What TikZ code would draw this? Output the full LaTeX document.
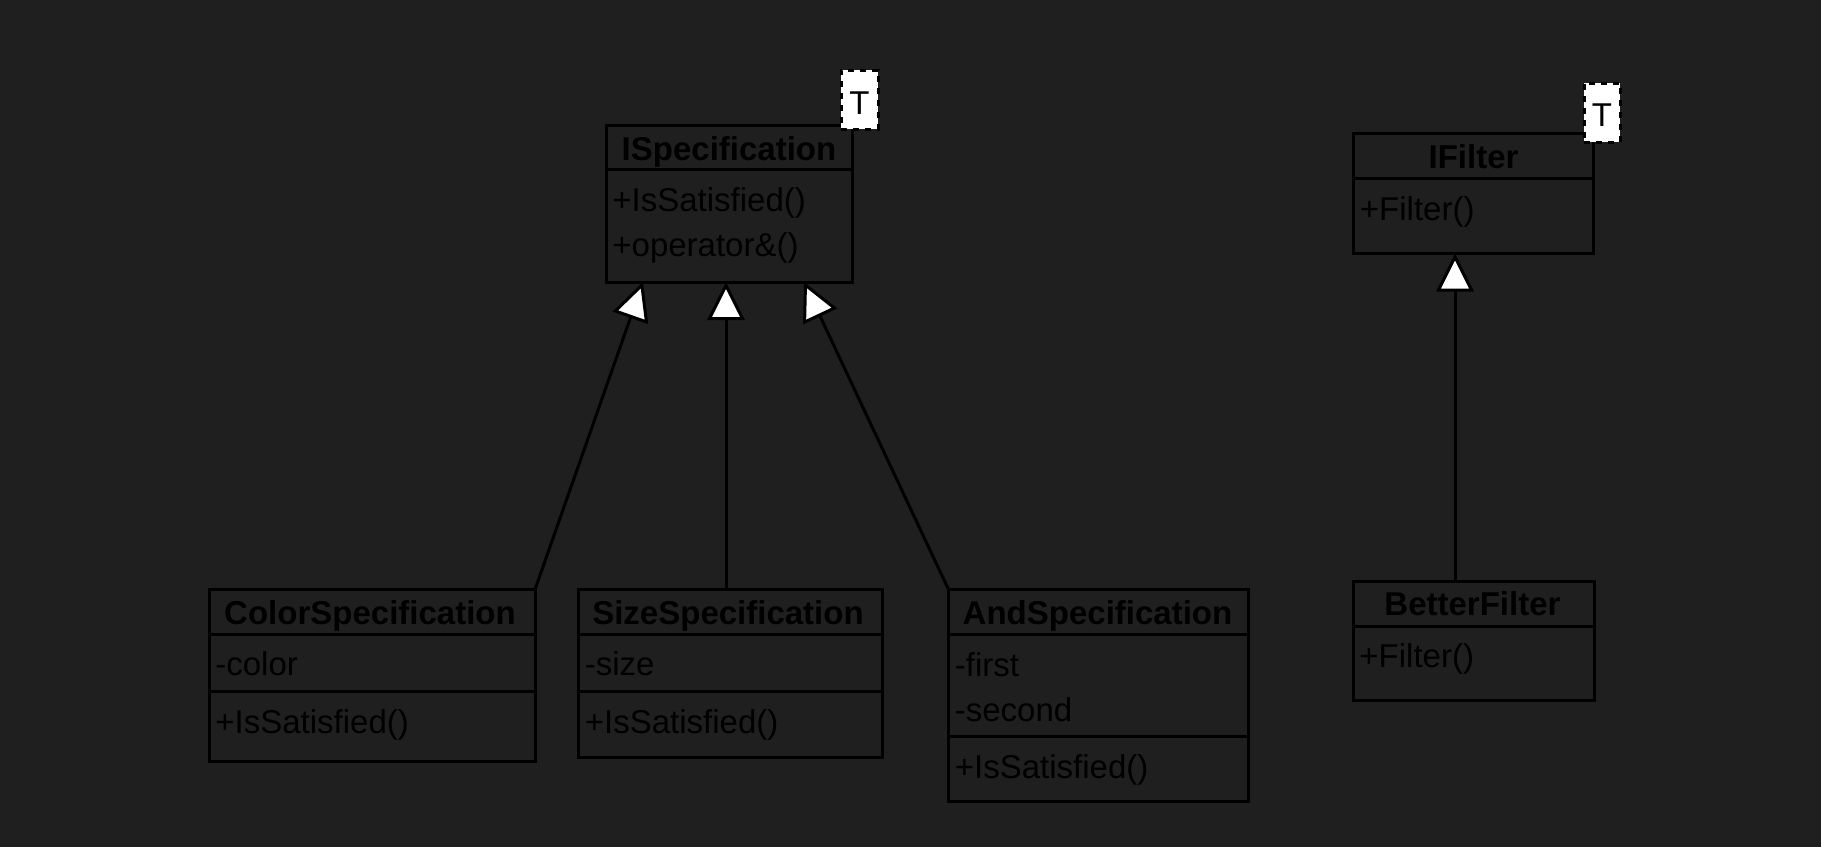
\documentclass[tikz,border=0pt]{standalone}
\usepackage{fontspec}
\setmainfont{Liberation Sans}
\usetikzlibrary{arrows.meta,calc}
\definecolor{bg}{HTML}{1F1F1F}
\begin{document}
\begin{tikzpicture}[x=0.5pt,y=-0.5pt,
  umlbox/.style={draw=black, line width=1.5pt, rectangle, inner sep=0pt, outer sep=0pt, anchor=north west},
  ttl/.style={font=\fontsize{16.5}{19}\selectfont\bfseries, text=black, anchor=base, inner sep=0pt},
  attr/.style={font=\fontsize{16.5}{19}\selectfont, text=black, anchor=base west, inner sep=0pt},
  tbox/.style={fill=white, draw=black, dash pattern=on 3pt off 3pt, line width=1.5pt, rectangle, inner sep=0pt, outer sep=0pt, anchor=north west},
  tlabel/.style={font=\fontsize{16.5}{19}\selectfont, text=black, anchor=base, inner sep=0pt},
  divider/.style={draw=black, line width=1.5pt},
  inh/.style={draw=black, line width=1.5pt, -{Triangle[length=19pt,width=18.5pt,fill=white]}}
]
\fill[bg] (0,0) rectangle (1821,847);

% ISpecification
\node[umlbox, minimum width=123pt, minimum height=78.5pt] (ispec) at (606,125) {};
\draw[divider] ($(ispec.north west)+(0,44.5)$) -- ($(ispec.north east)+(0,44.5)$);
\node[ttl] (ispect) at (729,160) {ISpecification};
\node[attr] (ispeca1) at (612,211) {+IsSatisfied()};
\node[attr] (ispeca2) at (612,256) {+operator\&()};
\node[tbox, minimum width=18.5pt, minimum height=29.5pt] (t1) at (841,70) {};
\node[tlabel] (t1l) at (859.5,114) {T};

% ColorSpecification
\node[umlbox, minimum width=163pt, minimum height=85.75pt] (colorspec) at (209,589.5) {};
\draw[divider] ($(colorspec.north west)+(0,44.5)$) -- ($(colorspec.north east)+(0,44.5)$);
\draw[divider] ($(colorspec.north west)+(0,102)$) -- ($(colorspec.north east)+(0,102)$);
\node[ttl] (colort) at (370,624.5) {ColorSpecification};
\node[attr] (colora1) at (215,675.5) {-color};
\node[attr] (colora2) at (215,733) {+IsSatisfied()};

% SizeSpecification
\node[umlbox, minimum width=152pt, minimum height=84pt] (sizespec) at (578.5,589.5) {};
\draw[divider] ($(sizespec.north west)+(0,44.5)$) -- ($(sizespec.north east)+(0,44.5)$);
\draw[divider] ($(sizespec.north west)+(0,101.5)$) -- ($(sizespec.north east)+(0,101.5)$);
\node[ttl] (sizet) at (728,624.5) {SizeSpecification};
\node[attr] (sizea1) at (584.5,675.5) {-size};
\node[attr] (sizea2) at (584.5,733) {+IsSatisfied()};

% AndSpecification
\node[umlbox, minimum width=150pt, minimum height=106pt] (andspec) at (948.5,589.5) {};
\draw[divider] ($(andspec.north west)+(0,45)$) -- ($(andspec.north east)+(0,45)$);
\draw[divider] ($(andspec.north west)+(0,147)$) -- ($(andspec.north east)+(0,147)$);
\node[ttl] (andt) at (1097.5,624.5) {AndSpecification};
\node[attr] (anda1) at (954.5,676) {-first};
\node[attr] (anda2) at (954.5,721) {-second};
\node[attr] (anda3) at (954.5,778) {+IsSatisfied()};

% IFilter
\node[umlbox, minimum width=120pt, minimum height=60.25pt] (ifilter) at (1353.5,133) {};
\draw[divider] ($(ifilter.north west)+(0,45.5)$) -- ($(ifilter.north east)+(0,45.5)$);
\node[ttl] (ifiltert) at (1473.5,168) {IFilter};
\node[attr] (ifiltera1) at (1359.5,220) {+Filter()};
\node[tbox, minimum width=18pt, minimum height=29.5pt] (t2) at (1584,83) {};
\node[tlabel] (t2l) at (1602,126.5) {T};

% BetterFilter
\node[umlbox, minimum width=120.5pt, minimum height=59.5pt] (better) at (1353,581) {};
\draw[divider] ($(better.north west)+(0,45)$) -- ($(better.north east)+(0,45)$);
\node[ttl] (bettert) at (1472.5,615.5) {BetterFilter};
\node[attr] (bettera1) at (1359,667.5) {+Filter()};

% Inheritance connectors
\draw[inh] (colorspec.north east) -- ($(ispec.south west)+(37,0)$);
\draw[inh] ($(sizespec.north west)+(147.5,0)$) -- ($(ispec.south west)+(120,0)$);
\draw[inh] (andspec.north west) -- ($(ispec.south west)+(198,0)$);
\draw[inh] ($(better.north west)+(102,0)$) -- ($(ifilter.south west)+(101.5,0)$);
\end{tikzpicture}
\end{document}
